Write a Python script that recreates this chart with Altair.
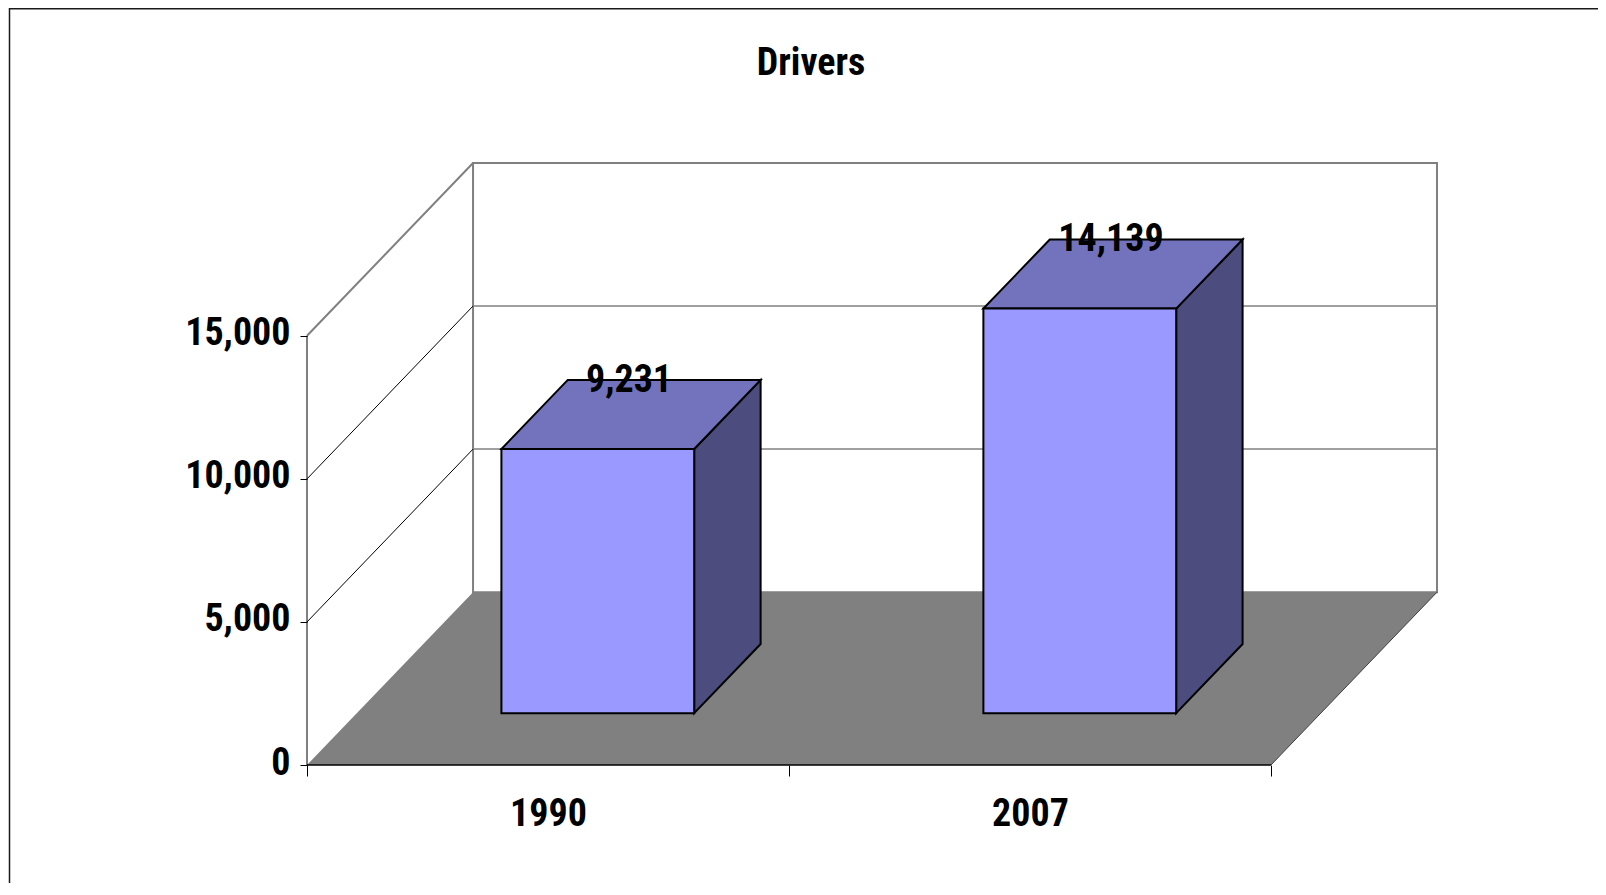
import altair as alt
import pandas as pd

# ---- data ----
categories = ["1990", "2007"]
values = [9231, 14139]
y_ticks = [0, 5000, 10000, 15000]
title_text = "Drivers"

# ---- 3D projection geometry (in data units) ----
DXU = 0.3445          # x-shift of full depth (category units)
DYV = 6040            # y-shift of full depth (value units)
XMAX = 2 + DXU
YMAX = 15000 + DYV
HALF = 0.2            # half bar width (category units)
D0, D1 = 0.3, 0.7     # bar depth range
W, H = 1130, 602
PAD = {"left": 299, "top": 155, "right": 161, "bottom": 118}

FONT = "Roboto Condensed, Liberation Sans Narrow, Liberation Sans, sans-serif"
FS = 38
FRONT, TOP, SIDE = "#9999FF", "#7373BD", "#4C4C7E"
GRAY = "#808080"

xs = alt.Scale(domain=[0, XMAX], nice=False, zero=False)
ys = alt.Scale(domain=[0, YMAX], nice=False, zero=False)

cats_js = "[" + ",".join(f"'{c}'" for c in categories) + "]"
XAXIS = alt.Axis(
    values=[0, 0.5, 1, 1.5, 2], title=None, domain=False, grid=False,
    tickSize=11, tickColor="black", tickWidth=1,
    tickOpacity={"condition": {"test": "datum.value % 1 != 0", "value": 0}, "value": 1},
    labelExpr=f"datum.value % 1 == 0 ? '' : {cats_js}[floor(datum.value)]",
    labelFont=FONT, labelFontSize=FS, labelFontWeight="bold", labelColor="black",
    labelPadding=19, labelFlush=False, labelOverlap=False, labelBound=False,
)
YAXIS = alt.Axis(
    values=y_ticks, format=",d", title=None, domain=False, grid=False,
    tickSize=7, tickColor="black", tickWidth=1,
    labelFont=FONT, labelFontSize=FS, labelFontWeight="bold", labelColor="black",
    labelPadding=10, labelOffset=-2, labelFlush=False, labelOverlap=False, labelBound=False,
)


def X(f):
    return alt.X(f, type="quantitative", scale=xs, axis=XAXIS)


def Y(f):
    return alt.Y(f, type="quantitative", scale=ys, axis=YAXIS)


# ---- tables built from the values ----
one = pd.DataFrame({"k": [0]})

back = pd.DataFrame({"x": [DXU], "x2": [XMAX], "y": [DYV], "y2": [YMAX]})
grid_back = pd.DataFrame([{"x": DXU, "x2": XMAX, "y": v + DYV, "y2": v + DYV} for v in y_ticks[1:-1]])
diag_black = pd.DataFrame([{"x": 0, "x2": DXU, "y": v, "y2": v + DYV} for v in y_ticks[1:-1]])
diag_top = pd.DataFrame([{"x": 0, "x2": DXU, "y": y_ticks[-1], "y2": y_ticks[-1] + DYV}])
floor = pd.DataFrame([{"y": d * DYV, "x": d * DXU, "x2": 2 + d * DXU} for d in (0, 1)])
front_edge = pd.DataFrame([{"x": 0, "x2": 2, "y": 0, "y2": 0}])
right_edge = pd.DataFrame([{"x": 2, "x2": XMAX, "y": 0, "y2": DYV}])
yline = pd.DataFrame([{"x": 0, "x2": 0, "y": 0, "y2": y_ticks[-1]}])

front_rows, side_rows, top_rows, label_rows = [], [], [], []
for i, (cat, v) in enumerate(zip(categories, values)):
    c = i + 0.5
    front_rows.append({"cat": cat, "x": c - HALF + D0 * DXU, "x2": c + HALF + D0 * DXU,
                       "y": D0 * DYV, "y2": v + D0 * DYV})
    for d in (D0, D1):
        side_rows.append({"cat": cat, "x": c + HALF + d * DXU, "y": d * DYV, "y2": v + d * DYV})
        top_rows.append({"cat": cat, "y": v + d * DYV, "x": c - HALF + d * DXU, "x2": c + HALF + d * DXU})
    label_rows.append({"cat": cat, "value": v, "x": c + (D0 + D1) / 2 * DXU, "y": v + D1 * DYV})

front_df = pd.DataFrame(front_rows)
side_df = pd.DataFrame(side_rows)
top_df = pd.DataFrame(top_rows)
label_df = pd.DataFrame(label_rows)

# ---- layers ----
border_left = alt.Chart(one).mark_rule(color="#1a1a1a", strokeWidth=1.5).encode(
    x=alt.value(-297.5), y=alt.value(-155), y2=alt.value(H + PAD["bottom"]))
border_top = alt.Chart(one).mark_rule(color="#1a1a1a", strokeWidth=1.5).encode(
    x=alt.value(-298), x2=alt.value(W + PAD["right"]), y=alt.value(-154.2))

back_wall = alt.Chart(back).mark_rect(fill="white", stroke=GRAY, strokeWidth=2).encode(
    x=X("x"), x2="x2", y=Y("y"), y2="y2")
grid_b = alt.Chart(grid_back).mark_rule(color=GRAY, strokeWidth=1.5).encode(
    x=X("x"), x2="x2", y=Y("y"), y2="y2")
diag_b = alt.Chart(diag_black).mark_rule(color="black", strokeWidth=1).encode(
    x=X("x"), x2="x2", y=Y("y"), y2="y2")
diag_t = alt.Chart(diag_top).mark_rule(color=GRAY, strokeWidth=2).encode(
    x=X("x"), x2="x2", y=Y("y"), y2="y2")
floor_l = alt.Chart(floor).mark_area(orient="horizontal", fill=GRAY).encode(
    y=Y("y"), x=X("x"), x2="x2")
front_e = alt.Chart(front_edge).mark_rule(color="black", strokeWidth=1.5).encode(
    x=X("x"), x2="x2", y=Y("y"), y2="y2")
right_e = alt.Chart(right_edge).mark_rule(color="#404040", strokeWidth=1).encode(
    x=X("x"), x2="x2", y=Y("y"), y2="y2")
y_line = alt.Chart(yline).mark_rule(color="black", strokeWidth=1).encode(
    x=X("x"), y=Y("y"), y2="y2")

side = alt.Chart(side_df).mark_area(orient="vertical", fill=SIDE, stroke="black",
                                    strokeWidth=2, strokeJoin="miter").encode(
    x=X("x"), y=Y("y"), y2="y2", detail="cat:N")
top = alt.Chart(top_df).mark_area(orient="horizontal", fill=TOP, stroke="black",
                                  strokeWidth=2, strokeJoin="miter").encode(
    y=Y("y"), x=X("x"), x2="x2", detail="cat:N")
front = alt.Chart(front_df).mark_rect(fill=FRONT, stroke="black", strokeWidth=2,
                                      strokeJoin="miter").encode(
    x=X("x"), x2="x2", y=Y("y"), y2="y2")
labels = alt.Chart(label_df).mark_text(font=FONT, fontSize=FS, fontWeight="bold", color="black",
                                       baseline="alphabetic", align="center", dy=12, dx=-2).encode(
    x=X("x"), y=Y("y"), text=alt.Text("value:Q", format=","))

chart = alt.layer(
    border_left, border_top, back_wall, grid_b, diag_b, diag_t, floor_l,
    front_e, right_e, y_line, side, top, front, labels,
).properties(
    width=W, height=H, padding=PAD, autosize="none", background="white",
    title=alt.TitleParams(text=title_text, font=FONT, fontSize=FS, fontWeight="bold",
                          color="black", anchor="middle", frame="group", offset=-76, dx=-61),
).configure_view(stroke=None)

chart.save("out.html", embed_options={"renderer": "svg", "actions": False})
